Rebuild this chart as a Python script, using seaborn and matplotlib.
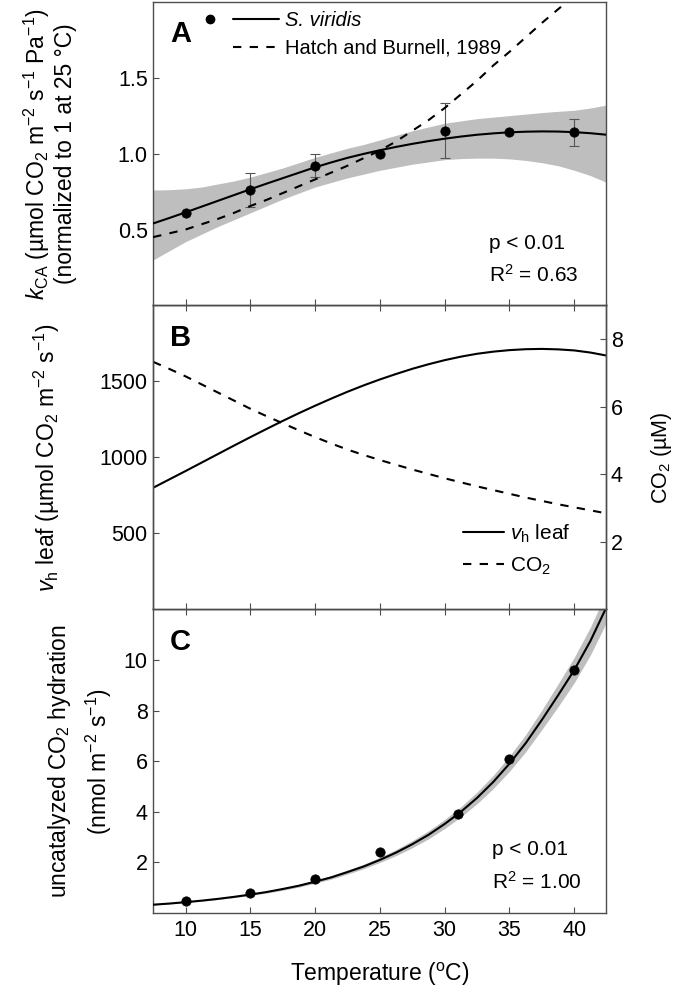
import pandas as pd
import seaborn as sns
import matplotlib.pyplot as plt
from matplotlib.lines import Line2D
from matplotlib.legend_handler import HandlerTuple

temp_curve = [7.5, 8.75, 10, 11.25, 12.5, 13.75, 15, 16.25, 17.5, 18.75, 20, 21.25, 22.5, 23.75, 25,
              26.25, 27.5, 28.75, 30, 31.25, 32.5, 33.75, 35, 36.25, 37.5, 38.75, 40, 41.25, 42.5]

# Panel A - kCA normalised
temp_a = [10, 15, 20, 25, 30, 35, 40]
kca_obs = [0.61, 0.76, 0.92, 1.00, 1.15, 1.14, 1.14]
kca_err = [0.0, 0.11, 0.075, 0.0, 0.18, 0.0, 0.088]
kca_fit = [0.540, 0.576, 0.613, 0.651, 0.689, 0.727, 0.765, 0.802, 0.838, 0.874, 0.910, 0.942, 0.972,
           0.998, 1.022, 1.044, 1.064, 1.082, 1.098, 1.112, 1.124, 1.133, 1.140, 1.144, 1.146, 1.145,
           1.141, 1.134, 1.124]
kca_upper = [0.76, 0.762, 0.768, 0.78, 0.80, 0.82, 0.845, 0.875, 0.905, 0.94, 0.975, 1.005, 1.035, 1.06,
             1.09, 1.12, 1.15, 1.175, 1.20, 1.215, 1.23, 1.24, 1.25, 1.26, 1.27, 1.278, 1.285, 1.30, 1.32]
kca_lower = [0.30, 0.36, 0.42, 0.47, 0.52, 0.565, 0.61, 0.655, 0.70, 0.74, 0.78, 0.81, 0.84, 0.865, 0.89,
             0.91, 0.93, 0.945, 0.96, 0.967, 0.97, 0.97, 0.965, 0.955, 0.94, 0.92, 0.89, 0.855, 0.81]
kca_hatch = [0.45, 0.475, 0.50, 0.535, 0.57, 0.61, 0.655, 0.695, 0.74, 0.785, 0.83, 0.875, 0.92, 0.97,
             1.02, 1.08, 1.15, 1.22, 1.30, 1.39, 1.48, 1.58, 1.67, 1.765, 1.86, 1.95, 2.04, 2.13, 2.22]

# Panel B - vh leaf (left axis) and CO2 (right axis)
vh_leaf = [800, 855, 910, 966, 1022, 1078, 1133, 1187, 1240, 1291, 1340, 1387, 1432, 1474, 1513,
           1549, 1583, 1613, 1640, 1663, 1682, 1696, 1706, 1712, 1714, 1711, 1704, 1690, 1670]
co2_um = [7.33, 7.12, 6.90, 6.66, 6.42, 6.18, 5.94, 5.72, 5.51, 5.30, 5.10, 4.91, 4.73, 4.57, 4.42,
          4.28, 4.14, 4.01, 3.88, 3.76, 3.64, 3.53, 3.42, 3.31, 3.21, 3.11, 3.02, 2.93, 2.84]

# Panel C - uncatalyzed CO2 hydration
temp_c = [10, 15, 20, 25, 31, 35, 40]
hyd_obs = [0.47, 0.80, 1.35, 2.40, 3.90, 6.07, 9.59]
hyd_fit = [0.33, 0.375, 0.43, 0.49, 0.56, 0.64, 0.73, 0.83, 0.95, 1.08, 1.24, 1.41, 1.62, 1.84, 2.10,
           2.39, 2.72, 3.09, 3.52, 4.00, 4.55, 5.18, 5.90, 6.71, 7.63, 8.60, 9.60, 10.75, 12.1]
hyd_upper = [0.345, 0.39, 0.45, 0.51, 0.585, 0.67, 0.765, 0.87, 1.0, 1.135, 1.30, 1.48, 1.70, 1.93,
             2.20, 2.51, 2.86, 3.25, 3.70, 4.20, 4.78, 5.44, 6.20, 7.05, 8.02, 9.05, 10.1, 11.3, 12.7]
hyd_lower = [0.315, 0.36, 0.41, 0.47, 0.535, 0.61, 0.695, 0.79, 0.90, 1.025, 1.18, 1.34, 1.54, 1.75,
             2.00, 2.27, 2.58, 2.93, 3.34, 3.80, 4.32, 4.92, 5.60, 6.37, 7.25, 8.15, 9.1, 10.2, 11.5]

sns.set_style("ticks")
plt.rcParams['font.family'] = ['Liberation Sans', 'DejaVu Sans']
plt.rcParams['mathtext.fontset'] = 'custom'
plt.rcParams['mathtext.rm'] = 'Liberation Sans'
plt.rcParams['mathtext.it'] = 'Liberation Sans:italic'
plt.rcParams['mathtext.bf'] = 'Liberation Sans:bold'
plt.rcParams['text.color'] = 'black'
plt.rcParams['axes.labelcolor'] = 'black'

band = '#bebebe'
spine_col = '#4d4d4d'
tick_fs = 15.5
lab_fs = 16.5

fig = plt.figure(figsize=(6.8, 9.89), dpi=100)
left, right = 0.2243, 0.8912
bottom, top = 0.0768, 0.9983
h = (top - bottom) / 3
axC = fig.add_axes([left, bottom, right - left, h])
axB = fig.add_axes([left, bottom + h, right - left, h], sharex=axC)
axA = fig.add_axes([left, bottom + 2 * h, right - left, h], sharex=axC)

dfc = pd.DataFrame({'T': temp_curve, 'fit': kca_fit, 'hi': kca_upper, 'lo': kca_lower,
                    'hatch': kca_hatch, 'vh': vh_leaf, 'co2': co2_um,
                    'hfit': hyd_fit, 'hhi': hyd_upper, 'hlo': hyd_lower})
dfa = pd.DataFrame({'T': temp_a, 'k': kca_obs, 'err': kca_err})
dfh = pd.DataFrame({'T': temp_c, 'v': hyd_obs})

# ---- A
axA.fill_between(dfc['T'], dfc['lo'], dfc['hi'], color=band, lw=0, zorder=1)
sns.lineplot(data=dfc, x='T', y='fit', ax=axA, color='black', lw=1.5, zorder=3)
sns.lineplot(data=dfc, x='T', y='hatch', ax=axA, color='black', lw=1.5, zorder=3)
axA.lines[-1].set_dashes([4, 4])
e = dfa[dfa['err'] > 0]
axA.errorbar(e['T'], e['k'], yerr=e['err'], fmt='none', ecolor='#555555',
             elinewidth=0.8, capsize=3.5, capthick=0.8, zorder=2)
sns.scatterplot(data=dfa, x='T', y='k', ax=axA, color='black', s=45,
                edgecolor='black', zorder=4)
axA.set_ylim(0, 2.0)
axA.set_yticks([0.5, 1.0, 1.5])
axA.set_ylabel('$k_{\\rm CA}$ (µmol CO$_2$ m$^{-2}$ s$^{-1}$ Pa$^{-1}$)\n(normalized to 1 at 25 °C)',
               linespacing=1.1, fontsize=lab_fs)
axA.yaxis.set_label_coords(-0.166, 0.5)
axA.text(0.742, 0.187, 'p < 0.01', transform=axA.transAxes, ha='left', va='baseline', fontsize=15)
axA.text(0.742, 0.077, 'R$^2$ = 0.63', transform=axA.transAxes, ha='left', va='baseline', fontsize=15)
dot = Line2D([], [], ls='none', marker='o', color='black', ms=6)
solid = Line2D([], [], color='black', lw=1.5)
blank = Line2D([], [], ls='none')
dashed = Line2D([], [], color='black', lw=1.5, dashes=[4, 4])
legA = axA.legend([(dot, solid), (blank, dashed)], ['S. viridis', 'Hatch and Burnell, 1989'],
                  handler_map={tuple: HandlerTuple(ndivide=None, pad=0)},
                  loc='upper left', bbox_to_anchor=(0.076, 0.968), frameon=False,
                  borderpad=0, borderaxespad=0, handlelength=4.55, handletextpad=0.3,
                  labelspacing=0.42, fontsize=14.5)
legA.get_texts()[0].set_fontstyle('italic')

# ---- B
sns.lineplot(data=dfc, x='T', y='vh', ax=axB, color='black', lw=1.5)
axB.set_ylim(0, 2000)
axB.set_yticks([500, 1000, 1500])
axB.set_ylabel('$v_{\\rm h}$ leaf (µmol CO$_2$ m$^{-2}$ s$^{-1}$)', fontsize=lab_fs)
axB.yaxis.set_label_coords(-0.199, 0.5)
axB2 = axB.twinx()
sns.lineplot(data=dfc, x='T', y='co2', ax=axB2, color='black', lw=1.5)
axB2.lines[-1].set_dashes([4, 4])
axB2.set_ylim(0, 9)
axB2.set_yticks([2, 4, 6, 8])
axB2.set_ylabel('CO$_2$ (µM)', fontsize=15.5)
axB2.yaxis.set_label_coords(1.094, 0.5)
legB = axB2.legend([axB.lines[0], axB2.lines[-1]], ['$v_{\\rm h}$ leaf', 'CO$_2$'],
                   loc='upper left', bbox_to_anchor=(0.684, 0.285), frameon=False,
                   borderpad=0, borderaxespad=0, handlelength=2.0, handletextpad=0.25,
                   labelspacing=0.5, fontsize=15)

# ---- C
axC.fill_between(dfc['T'], dfc['hlo'], dfc['hhi'], color=band, lw=0, zorder=1)
sns.lineplot(data=dfc, x='T', y='hfit', ax=axC, color='black', lw=1.5, zorder=3)
sns.scatterplot(data=dfh, x='T', y='v', ax=axC, color='black', s=45,
                edgecolor='black', zorder=4)
axC.set_ylim(0, 12)
axC.set_yticks([2, 4, 6, 8, 10])
axC.set_ylabel('uncatalyzed CO$_2$ hydration\n(nmol m$^{-2}$ s$^{-1}$)', linespacing=1.5,
               fontsize=lab_fs)
axC.yaxis.set_label_coords(-0.084, 0.5)
axC.text(0.748, 0.190, 'p < 0.01', transform=axC.transAxes, ha='left', va='baseline', fontsize=15)
axC.text(0.748, 0.081, 'R$^2$ = 1.00', transform=axC.transAxes, ha='left', va='baseline', fontsize=15)
axC.set_xlim(7.45, 42.45)
axC.set_xticks([10, 15, 20, 25, 30, 35, 40])
axC.set_xlabel('Temperature ($^{\\rm o}$C)', fontsize=lab_fs, labelpad=14)

for ax, letter in [(axA, 'A'), (axB, 'B'), (axC, 'C')]:
    ax.text(0.0386, 0.866, letter, transform=ax.transAxes, fontsize=21,
            fontweight='bold', ha='left', va='baseline')
    ax.tick_params(axis='both', direction='in', length=4, width=0.8,
                   color=spine_col, labelcolor='black', labelsize=tick_fs)
for ax in (axA, axB, axC, axB2):
    for s in ax.spines.values():
        s.set_color(spine_col)
        s.set_linewidth(1.0)
axB2.tick_params(axis='y', direction='in', length=4, width=0.8,
                 color=spine_col, labelcolor='black', labelsize=tick_fs)
axC.tick_params(axis='x', pad=5)
for ax in (axB, axC):
    ax.tick_params(axis='x', top=True)
for ax in (axA, axB):
    ax.tick_params(axis='x', labelbottom=False)
    ax.set_xlabel('')

fig.savefig('out.png', dpi=100)
